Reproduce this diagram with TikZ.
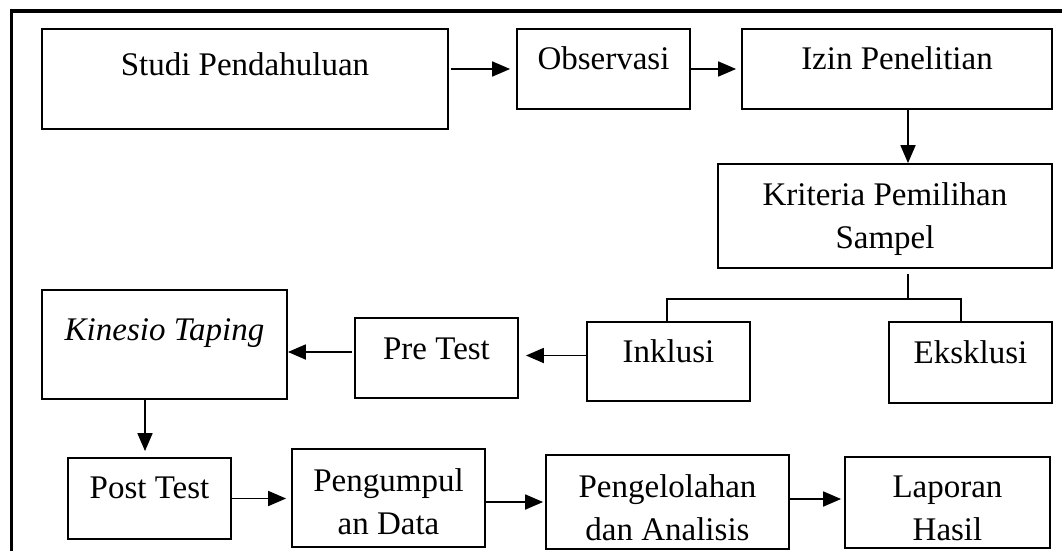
\documentclass[tikz,border=0pt]{standalone}
\usepackage{fontspec}
\setmainfont{Liberation Serif}
\usetikzlibrary{arrows.meta}

\tikzset{
    box/.style={draw=black, line width=1.8pt, inner sep=0pt},
    boxtext/.style={anchor=base, align=center, inner sep=0pt,
        font=\fontsize{33}{43}\selectfont},
    arr/.style={black, line width=1.8pt, -{Triangle[length=18pt,width=15pt]}},
    link/.style={black, line width=1.8pt},
}

\begin{document}
\begin{tikzpicture}[x=1pt, y=-1pt]

\useasboundingbox (0,0) rectangle (1062,551);

% Draws frame
\draw [black, line width=3.5pt] (11.5,551) -- (11.5,11) -- (1062,11);

% Draws boxes
\node [box, minimum width=406pt, minimum height=100pt] (studi) at (245,79) {};
\node [box, minimum width=173pt, minimum height=80pt] (obs) at (603.5,69) {};
\node [box, minimum width=310pt, minimum height=80pt] (izin) at (897,69) {};
\node [box, minimum width=334pt, minimum height=104pt] (krit) at (885,216) {};
\node [box, minimum width=163pt, minimum height=79pt] (inkl) at (668.5,361.5) {};
\node [box, minimum width=163pt, minimum height=81pt] (eks) at (970.5,362.5) {};
\node [box, minimum width=163pt, minimum height=80pt] (pre) at (436.5,358) {};
\node [box, minimum width=245pt, minimum height=109pt] (kin) at (164.5,344.5) {};
\node [box, minimum width=163pt, minimum height=81pt] (post) at (149.5,498.5) {};
\node [box, minimum width=193pt, minimum height=98pt] (pengum) at (388.5,498) {};
\node [box, minimum width=243pt, minimum height=94pt] (pengel) at (667.5,502) {};
\node [box, minimum width=205pt, minimum height=91pt] (lap) at (947.5,502.5) {};

% Writes box texts (two-line texts sit on their last baseline)
\node [boxtext] (studiT) at (245,75) {Studi Pendahuluan};
\node [boxtext] (obsT) at (603.5,70) {Observasi};
\node [boxtext] (izinT) at (897,70) {Izin Penelitian};
\node [boxtext] (kritT) at (885,248) {Kriteria Pemilihan\\Sampel};
\node [boxtext] (inklT) at (668.5,362) {Inklusi};
\node [boxtext] (eksT) at (970.5,363) {Eksklusi};
\node [boxtext] (preT) at (436.5,359) {Pre Test};
\node [boxtext] (kinT) at (164.5,340) {\textit{Kinesio Taping}};
\node [boxtext] (postT) at (149.5,498) {Post Test};
\node [boxtext] (pengumT) at (388.5,534) {Pengumpul\\an Data};
\node [boxtext] (pengelT) at (667.5,540) {Pengelolahan\\dan Analisis};
\node [boxtext] (lapT) at (947.5,540) {Laporan\\Hasil};

% Split below the selection criteria
\coordinate (kSplit) at (908,299);
\coordinate (brL) at (667,299);
\coordinate (brR) at (961,299);

% Draws arrows
\draw [arr, shorten <=2pt, shorten >=6pt] (studi.east |- obs.west) -- (obs.west);
\draw [arr, shorten >=5pt] (obs.east) -- (izin.west);
\draw [arr] (kSplit |- izin.south) -- (kSplit |- krit.north);
\draw [link, shorten <=5pt] (kSplit |- krit.south) -- (kSplit);
\draw [link] (inkl.north -| brL) -- (brL) -- (brR) -- (eks.north -| brR);
\draw [arr, shorten >=7pt] ([yshift=6pt]inkl.west) -- ([yshift=6pt]inkl.west -| pre.east);
\draw [arr, shorten <=2pt] ([yshift=6pt]pre.west) -- ([yshift=6pt]pre.west -| kin.east);
\draw [arr, shorten >=6pt] ([xshift=-19.5pt]kin.south) -- ([xshift=-4.5pt]post.north);
\draw [arr, shorten >=5pt] (post.east) -- (post.east -| pengum.west);
\draw [arr, shorten >=2pt] (pengel.west -| pengum.east) -- (pengel.west);
\draw [arr, shorten >=3pt] ([yshift=3pt]pengel.east) -- ([yshift=3pt]pengel.east -| lap.west);

\end{tikzpicture}
\end{document}
